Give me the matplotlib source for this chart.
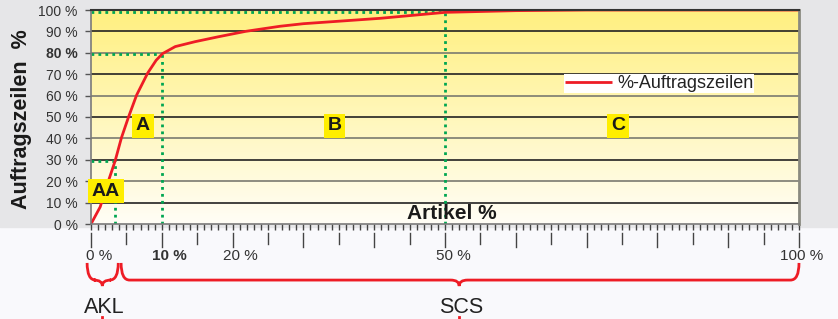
import numpy as np
import matplotlib.pyplot as plt
import matplotlib.transforms as mtransforms
from matplotlib.path import Path
from matplotlib.patches import PathPatch, Rectangle

plt.rcParams['font.family'] = ['Liberation Sans', 'DejaVu Sans']

# ABC-Kurve: Artikel % -> Auftragszeilen %
artikel = [0, 1.3, 2.45, 3.4, 4.3, 5.3, 6.45, 8.0, 9.2, 10.1, 11.9, 14.7, 18.0,
           21.8, 26.7, 30.0, 40.8, 50.0, 60.0, 70.0, 100]
zeilen = [0, 8.0, 20.0, 29.4, 40.3, 50.0, 60.3, 70.5, 76.5, 79.6, 82.9, 85.2, 87.5,
          90.0, 92.4, 93.6, 96.1, 98.9, 99.7, 100, 100]

# Grenzen der Klassen (x %, y %)
grenzen = [(3.4, 29.4), (10.0, 79.4), (50.0, 99.2)]

klassen = ['AA', 'A', 'B', 'C']
klassen_x = [2.1, 7.35, 34.4, 74.4]
klassen_y = [15.4, 45.8, 45.8, 45.8]

y_ticks = list(range(0, 101, 10))
x_label_ticks = [0, 10, 20, 50, 100]

bereiche = ['AKL', 'SCS']
bereich_von = [-0.55, 4.25]
bereich_bis = [3.85, 100]
bereich_mitte = [1.6, 52.0]

fig = plt.figure(figsize=(8.38, 3.19), dpi=100, facecolor='#f9f9fc')
fig.patches.append(Rectangle((0, (319 - 227) / 319), 1, 1, transform=fig.transFigure,
                             color='#e6e6e8', zorder=-10))
ax = fig.add_axes([91 / 838, (319 - 224) / 319, 708 / 838, 214 / 319])
ax.set_xlim(0, 100)
ax.set_ylim(0, 100)

# gelber Verlauf
grad = np.linspace(0, 1, 256).reshape(-1, 1)
top = np.array([1.0, 0.94, 0.50])
bot = np.array([1.0, 0.995, 0.965])
img = bot + (top - bot) * grad[..., None] * np.ones((1, 1, 3))
ax.imshow(img, extent=[0, 100, 0, 100], origin='lower', aspect='auto', zorder=0)

# Gitterlinien
for i, v in enumerate(y_ticks[1:-1]):
    ax.axhline(v, color='#222222' if i % 2 == 0 else '#7a7a70', lw=1.2, zorder=1)

# gruene Hilfslinien
for gx, gy in grenzen:
    ax.plot([0, gx], [gy, gy], color='#00a651', ls=(0, (1, 1.5)), lw=2, zorder=2)
    ax.plot([gx, gx], [0, gy], color='#00a651', ls=(0, (1, 1.5)), lw=2, zorder=2)

ax.plot(artikel, zeilen, color='#ee1c25', lw=2, zorder=4, label='%-Auftragszeilen',
        solid_capstyle='butt')

for k, kx, ky in zip(klassen, klassen_x, klassen_y):
    ax.text(kx, ky, k, ha='center', va='center', fontsize=14, fontweight='bold',
            color='#1a1a1a', zorder=6, clip_on=False,
            bbox=dict(boxstyle='square,pad=0.2', fc='#ffee00', ec='none'))

ax.text(50.9, 4.8, 'Artikel %', ha='center', va='center', fontsize=15,
        fontweight='bold', color='#1a1a1a', zorder=6)

leg = ax.legend(loc='upper left', bbox_to_anchor=(0.668, 0.70), frameon=True,
                fancybox=False, edgecolor='white', framealpha=1, fontsize=13,
                handlelength=2.6, handletextpad=0.3, borderpad=0.05,
                borderaxespad=0)
leg.get_frame().set_linewidth(0)
for t in leg.get_texts():
    t.set_color('#222222')

# Achsen
for s in ['left', 'bottom']:
    ax.spines[s].set_color('#7a7a7a')
    ax.spines[s].set_linewidth(1.2)
ax.spines['top'].set_color('#333333')
ax.spines['top'].set_linewidth(1.5)
ax.spines['right'].set_color('#8a8a80')
ax.spines['right'].set_linewidth(2)
for s in ax.spines.values():
    s.set_zorder(5)

ax.set_yticks(y_ticks)
ax.set_yticklabels([f'{v} %' for v in y_ticks], fontsize=10, color='#333333')
for lab in ax.get_yticklabels():
    if lab.get_text() == '80 %':
        lab.set_fontweight('bold')
ax.tick_params(axis='y', length=4.5, width=1, color='#555555', pad=5)

ax.set_xticks([])
ax.set_xticks(np.arange(0, 101, 1), minor=True)
ax.tick_params(axis='x', which='minor', length=4, width=1, color='#444444')

ax.set_ylabel('Auftragszeilen  %', fontsize=15.5, fontweight='bold', color='#1a1a1a')
ax.yaxis.set_label_coords(-0.084, 0.49)

xt = ax.get_xaxis_transform()
for v in range(0, 101, 5):
    y_end = -0.108 if v % 10 == 0 else -0.092
    ax.plot([v, v], [-0.042, y_end], transform=xt, color='#444444', lw=1, clip_on=False)
for v in x_label_ticks:
    dx = 8 if v < 100 else 3
    ax.text(v, -0.15, f'{v} %', transform=mtransforms.offset_copy(xt, fig=fig, x=dx, y=0, units='dots'),
            ha='center', va='center', fontsize=11, color='#333333',
            fontweight='bold' if v == 10 else 'normal')

# geschweifte Klammern
y_top, y_mid, y_tip = -0.182, -0.262, -0.29
for name, x0, x1, xm in zip(bereiche, bereich_von, bereich_bis, bereich_mitte):
    r = 1.2
    verts = [(x0, y_top), (x0, y_mid), (x0 + r, y_mid), (xm - r, y_mid),
             (xm, y_mid), (xm, y_tip), (xm, y_mid), (xm + r, y_mid),
             (x1 - r, y_mid), (x1, y_mid), (x1, y_top)]
    codes = [Path.MOVETO, Path.CURVE3, Path.CURVE3, Path.LINETO,
             Path.CURVE3, Path.CURVE3, Path.CURVE3, Path.CURVE3,
             Path.LINETO, Path.CURVE3, Path.CURVE3]
    ax.add_patch(PathPatch(Path(verts, codes), transform=xt, fill=False,
                           ec='#ee1c25', lw=2, clip_on=False))
    ax.text(xm + 0.3, -0.39, name, transform=xt, ha='center', va='center',
            fontsize=15.5, color='#222222')
    ax.plot([xm, xm], [-0.435, -0.46], transform=xt, color='#ee1c25', lw=2,
            clip_on=False)

fig.savefig('out.png', dpi=100, facecolor=fig.get_facecolor())
